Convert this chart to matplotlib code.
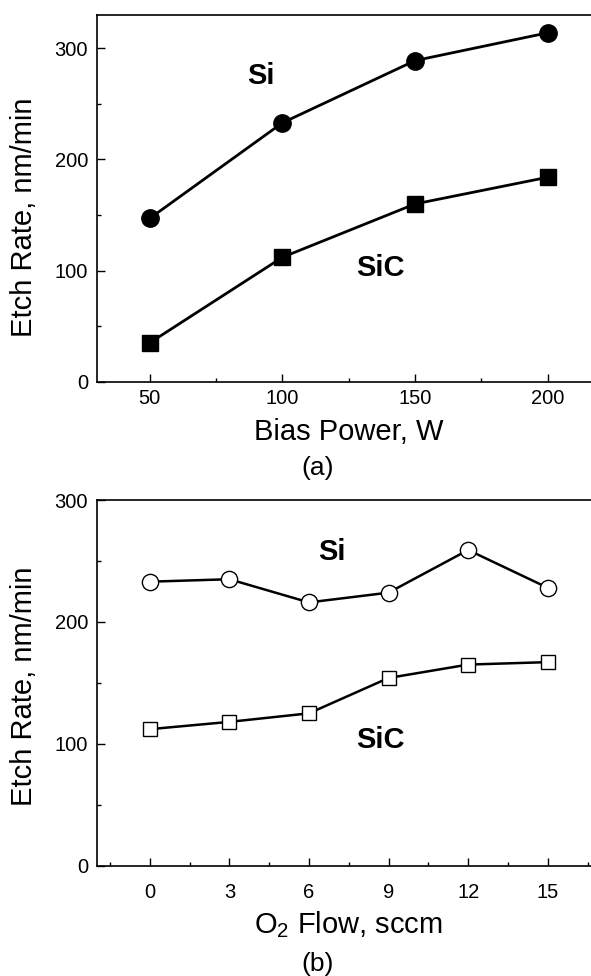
import matplotlib
matplotlib.use("Agg")
import matplotlib.pyplot as plt
from matplotlib.ticker import MultipleLocator

plt.rcParams['font.family'] = ['Liberation Sans', 'DejaVu Sans']
plt.rcParams['mathtext.fontset'] = 'custom'
plt.rcParams['mathtext.rm'] = 'Liberation Sans'

# (a) etch rate vs bias power
bias_power = [50, 100, 150, 200]
si_bias = [147, 233, 289, 314]
sic_bias = [35, 112, 160, 184]

# (b) etch rate vs O2 flow
o2_flow = [0, 3, 6, 9, 12, 15]
si_o2 = [233, 235, 216, 224, 259, 228]
sic_o2 = [112, 118, 125, 154, 165, 167]

fig = plt.figure(figsize=(5.91, 9.76), dpi=100)
ax1 = fig.add_axes([0.1636, 0.6089, 0.853, 0.3757])
ax2 = fig.add_axes([0.1636, 0.1130, 0.853, 0.3747])


def style_axes(ax, xpad):
    ax.spines['right'].set_visible(False)
    for s in ['left', 'bottom', 'top']:
        ax.spines[s].set_linewidth(1.2)
    ax.tick_params(which='both', direction='in', top=False, right=False, width=1.0)
    ax.tick_params(which='major', length=5.5, labelsize=14.5)
    ax.tick_params(which='minor', length=3)
    ax.tick_params(axis='x', which='major', pad=xpad)
    ax.tick_params(axis='y', which='major', pad=6.3)
    ax.yaxis.set_major_locator(MultipleLocator(100))
    ax.yaxis.set_minor_locator(MultipleLocator(50))


# top panel
ax1.plot(bias_power, si_bias, '-o', color='black', lw=2, ms=12.5)
ax1.plot(bias_power, sic_bias, '-s', color='black', lw=2, ms=11.5)
ax1.set_xlim(30, 220)
ax1.set_ylim(0, 330)
ax1.xaxis.set_major_locator(MultipleLocator(50))
ax1.xaxis.set_minor_locator(MultipleLocator(25))
style_axes(ax1, 5.2)
ax1.text(91.9, 274.8, 'Si', fontsize=21, fontweight='bold', ha='center', va='center')
ax1.text(137.1, 102.4, 'SiC', fontsize=21, fontweight='bold', ha='center', va='center')
ax1.set_xlabel('Bias Power, W', fontsize=21)
ax1.xaxis.set_label_coords(0.5, -0.137)
ax1.xaxis.label.set_va('center')
ax1.set_ylabel('Etch Rate, nm/min', fontsize=21)
ax1.yaxis.set_label_coords(-0.144, 0.449)
ax1.yaxis.label.set_va('center')

# bottom panel
ax2.plot(o2_flow, si_o2, '-o', color='black', lw=1.8, ms=11.7,
         mfc='white', mec='black', mew=1.0)
ax2.plot(o2_flow, sic_o2, '-s', color='black', lw=1.8, ms=10.3,
         mfc='white', mec='black', mew=1.0)
ax2.set_xlim(-2, 17)
ax2.set_ylim(0, 300)
ax2.xaxis.set_major_locator(MultipleLocator(3))
ax2.xaxis.set_minor_locator(MultipleLocator(1.5))
style_axes(ax2, 12.4)
ax2.text(6.88, 257.6, 'Si', fontsize=21, fontweight='bold', ha='center', va='center')
ax2.text(8.69, 103.1, 'SiC', fontsize=21, fontweight='bold', ha='center', va='center')
ax2.set_xlabel(r'O$_\mathregular{2}$ Flow, sccm', fontsize=21)
ax2.xaxis.set_label_coords(0.5, -0.16)
ax2.xaxis.label.set_va('center')
ax2.set_ylabel('Etch Rate, nm/min', fontsize=21)
ax2.yaxis.set_label_coords(-0.144, 0.49)
ax2.yaxis.label.set_va('center')

fig.text(318 / 591, 1 - 468 / 976, '(a)', fontsize=19, ha='center', va='center')
fig.text(318 / 591, 1 - 964 / 976, '(b)', fontsize=19, ha='center', va='center')

fig.savefig('out.png', dpi=100)
